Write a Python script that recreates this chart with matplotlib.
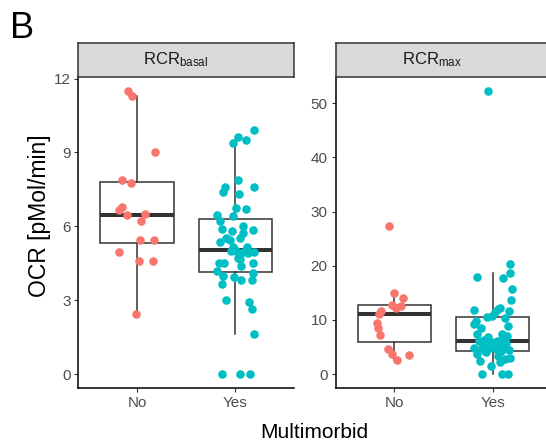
import numpy as np
import matplotlib
matplotlib.use('Agg')
import matplotlib.pyplot as plt

plt.rcParams['font.family'] = ['Liberation Sans', 'DejaVu Sans']
plt.rcParams['mathtext.fontset'] = 'custom'
plt.rcParams['mathtext.rm'] = 'Liberation Sans'
plt.rcParams['mathtext.it'] = 'Liberation Sans:italic'

groups = ['No', 'Yes']
colors = ['#F8766D', '#00BFC4']

# RCR basal
basal_no = [11.5, 11.3, 9.0, 7.9, 7.75, 6.8, 6.65, 6.45, 6.5, 6.2, 5.45, 5.45, 4.95, 4.6, 4.6, 2.45]
basal_no_jit = [-0.09, -0.05, 0.18, -0.16, -0.06, -0.15, -0.19, -0.10, 0.08, 0.04, 0.03, 0.17, -0.19, 0.02, 0.16, -0.01]
basal_yes = [9.93, 9.63, 9.49, 9.39, 7.88, 7.61, 7.41, 7.61, 7.31, 6.73, 6.69, 6.46, 6.42, 6.2, 5.9, 5.83,
             6.02, 5.86, 5.72, 5.52, 5.43, 5.35, 5.52, 5.16, 5.16, 4.98, 4.94, 4.94, 4.93, 4.71, 4.66,
             4.52, 4.52, 4.52, 4.4, 4.2, 4.1, 4.0, 3.95, 3.84, 3.81, 3.66, 3.0, 2.92, 2.65, 1.62,
             0.0, 0.0, 0.0, 5.0, 5.05]
basal_yes_jit = [0.19, 0.03, 0.11, -0.02, 0.03, -0.11, -0.13, 0.19, 0.04, 0.01, 0.11, -0.19, -0.02, -0.16, -0.14, -0.03,
                 0.08, 0.18, 0.08, -0.10, -0.05, -0.16, 0.05, -0.02, 0.12, 0.01, 0.08, 0.19, 0.13, 0.03, 0.05,
                 -0.17, -0.12, 0.18, 0.06, -0.19, 0.18, -0.13, -0.01, 0.06, 0.17, -0.14, -0.10, 0.14, 0.17, 0.19,
                 -0.14, 0.05, 0.15, -0.04, 0.0]

# RCR max
max_no = [27.4, 14.9, 13.97, 12.8, 12.6, 12.2, 11.7, 11.07, 9.35, 8.6, 7.3, 4.6, 3.7, 2.65, 3.5]
max_no_jit = [-0.06, 0.0, 0.09, -0.02, 0.07, 0.02, -0.14, -0.16, -0.18, -0.17, -0.15, -0.07, -0.02, 0.03, 0.15]
max_yes = [52.3, 20.4, 18.6, 18.0, 17.7, 15.8, 13.65, 12.3, 12.1, 11.9, 11.7, 11.5, 10.7, 10.5, 10.3, 9.8,
           9.2, 8.9, 8.6, 7.4, 7.4, 7.07, 6.8, 6.5, 6.3, 6.2, 6.1, 6.1, 6.0, 5.8, 5.5, 5.2, 4.9, 4.9,
           4.9, 4.9, 4.6, 4.4, 4.3, 4.2, 4.0, 3.7, 3.4, 3.0, 2.8, 2.45, 2.15, 1.5, 0.0, 0.0, 0.0]
max_yes_jit = [-0.05, 0.18, 0.18, -0.16, 0.11, 0.20, 0.19, 0.08, 0.06, -0.19, 0.17, 0.02, -0.01, -0.06, 0.13, -0.17,
               -0.19, 0.16, -0.12, -0.16, 0.10, 0.15, -0.05, 0.12, -0.09, 0.04, -0.14, 0.08, -0.02, 0.14, -0.10, 0.06, -0.19, -0.11,
               -0.04, 0.13, 0.03, 0.17, -0.08, 0.09, -0.07, -0.16, 0.06, 0.18, 0.13, -0.13, 0.08, -0.02, -0.11, 0.10, 0.16]

panels = [
    (r'RCR$_{\mathregular{basal}}$', [basal_no, basal_yes], [basal_no_jit, basal_yes_jit], [0, 3, 6, 9, 12]),
    (r'RCR$_{\mathregular{max}}$', [max_no, max_yes], [max_no_jit, max_yes_jit], [0, 10, 20, 30, 40, 50]),
]

W, H = 546, 446
fig = plt.figure(figsize=(W / 100, H / 100), dpi=100)

def px_axes(x0, y0, x1, y1):
    return fig.add_axes([x0 / W, 1 - y1 / H, (x1 - x0) / W, (y1 - y0) / H])

lefts = [78.3, 335.5]
pw = 216
for (title, data, jits, yt), x0 in zip(panels, lefts):
    ax = px_axes(x0, 76.7, x0 + pw, 388.3)
    bp = ax.boxplot(data, positions=[1, 2], widths=0.75, whis=1.5, showfliers=False, showcaps=False,
                    patch_artist=True,
                    boxprops=dict(facecolor='white', edgecolor='#333333', linewidth=1.1),
                    whiskerprops=dict(color='#333333', linewidth=1.1),
                    medianprops=dict(color='#333333', linewidth=2.9, solid_capstyle='butt'))
    for i, (vals, jit) in enumerate(zip(data, jits)):
        ax.scatter(np.array(jit) + i + 1, vals, s=38, color=colors[i], linewidths=0, zorder=3, clip_on=False)
    allv = np.concatenate([np.array(d) for d in data])
    lo, hi = allv.min(), allv.max()
    pad = 0.05 * (hi - lo)
    ax.set_ylim(lo - pad, hi + pad)
    ax.set_xlim(0.4, 2.6)
    ax.set_yticks(yt)
    ax.set_xticks([1, 2])
    ax.set_xticklabels(groups)
    for s in ['top', 'right']:
        ax.spines[s].set_visible(False)
    for s in ['left', 'bottom']:
        ax.spines[s].set_color('black')
        ax.spines[s].set_linewidth(1.1)
    ax.tick_params(direction='out', length=3.2, width=0.8, color='#333333', labelcolor='#4D4D4D',
                   labelsize=11, pad=2.4)

    st = px_axes(x0, 42.7, x0 + pw, 76.7)
    st.set_facecolor('#D9D9D9')
    st.set_xticks([])
    st.set_yticks([])
    for s in st.spines.values():
        s.set_color('#333333')
        s.set_linewidth(1.1)
    st.text(0.5 - 11 / pw, 0.5, title, ha='center', va='center', fontsize=12, color='#1A1A1A',
            transform=st.transAxes)

fig.text(10 / W, 1 - 38 / H, 'B', fontsize=26, ha='left', va='baseline')
fig.text(314.7 / W, 1 - 437.7 / H, 'Multimorbid', fontsize=15, ha='center', va='baseline')
fig.text(40 / W, 1 - 215.5 / H, 'OCR [pMol/min]', fontsize=16.5, ha='center', va='center', rotation=90)

fig.savefig('out.png', dpi=100)
